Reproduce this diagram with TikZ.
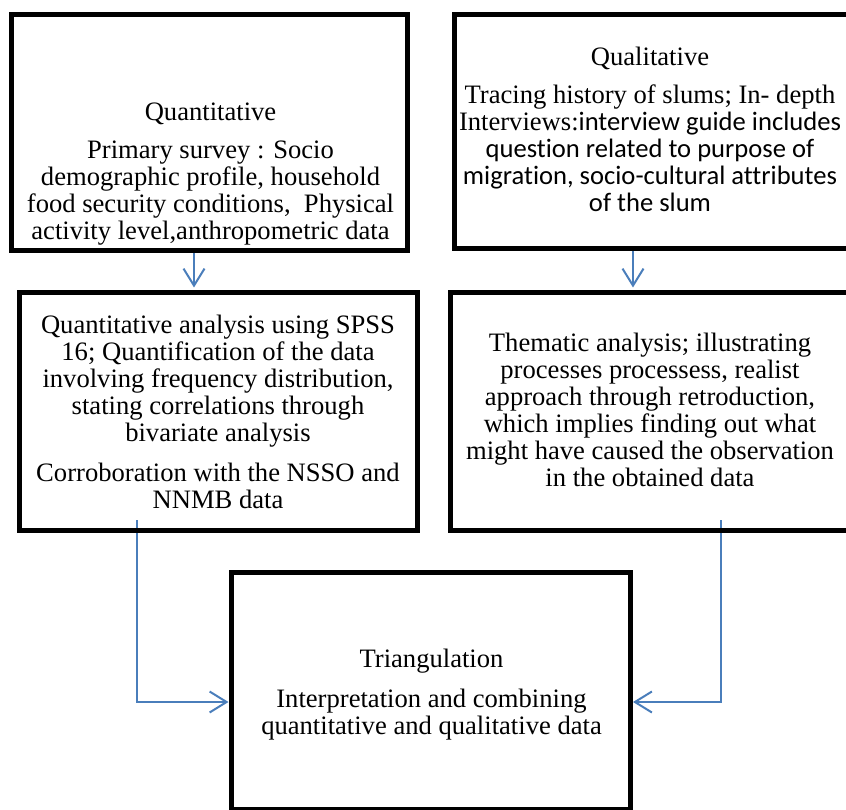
\documentclass[tikz,border=0pt]{standalone}
\usepackage{fontspec}
\setmainfont{Liberation Serif}
\newfontfamily\calfont[Ligatures=NoCommon]{Carlito}
\usetikzlibrary{arrows.meta,backgrounds}
\definecolor{conncol}{RGB}{74,126,187}
\begin{document}
\begin{tikzpicture}[x=1pt,y=-1pt,
  box/.style={draw=black, line width=5pt, inner sep=0pt, outer sep=0pt, anchor=north west},
  txt/.style={align=center, font=\fontsize{26.6}{27}\selectfont, inner sep=0pt},
  conn/.style={draw=conncol, line width=2pt, shorten >=3pt,
    -{Straight Barb[length=17pt,width=21pt]}}]
\useasboundingbox (0,0) rectangle (846,810);
% boxes
\node[box, minimum width=396pt, minimum height=235.5pt] (b1) at (11.5,15) {};
\node[box, minimum width=396pt, minimum height=234pt] (b2) at (454,15) {};
\node[box, minimum width=398pt, minimum height=238pt] (b3) at (19.5,292.5) {};
\node[box, minimum width=399.5pt, minimum height=238pt] (b4) at (450.5,292.5) {};
\node[box, minimum width=398.5pt, minimum height=236.5pt] (b5) at (231.5,572.5) {};
% texts
\node[txt] (t1) at (210.5,174) {Quantitative\\[11pt]Primary survey : Socio\\demographic profile, household\\food security conditions,\ \ Physical\\activity level,anthropometric data};
\node[txt] (t2) at (650,129) {Qualitative\\[11pt]Tracing history of slums; In- depth\\Interviews:{\calfont interview guide includes}\\{\calfont question related to purpose of}\\{\calfont migration, socio-cultural attributes}\\{\calfont of the slum}};
\node[txt] (t3) at (218,411.5) {Quantitative analysis using SPSS\\16; Quantification of the data\\involving frequency distribution,\\stating correlations through\\bivariate analysis\\[13pt]Corroboration with the NSSO and\\NNMB data};
\node[txt] (t4) at (650,410) {Thematic analysis; illustrating\\processes processess, realist\\approach through retroduction,\\which implies finding out what\\might have caused the observation\\in the obtained data};
\node[txt] (t5) at (431.5,695) {Triangulation\\[13pt]Interpretation and combining\\quantitative and qualitative data};
% connectors
\coordinate (a1) at (194,0);
\coordinate (a2) at (633,0);
\coordinate (s1) at (137,520);
\coordinate (s2) at (721,520);
\coordinate (h) at (0,702);
\begin{scope}[on background layer]
\fill[white] (0,0) rectangle (846,810);
\draw[conn, shorten >=5pt] (b1.south -| a1) -- (b3.north -| a1);
\draw[conn, shorten >=5pt] (b2.south -| a2) -- (b4.north -| a2);
\draw[conn] (s1) |- (b5.west |- h);
\draw[conn] (s2) |- (b5.east |- h);
\end{scope}
\end{tikzpicture}
\end{document}
